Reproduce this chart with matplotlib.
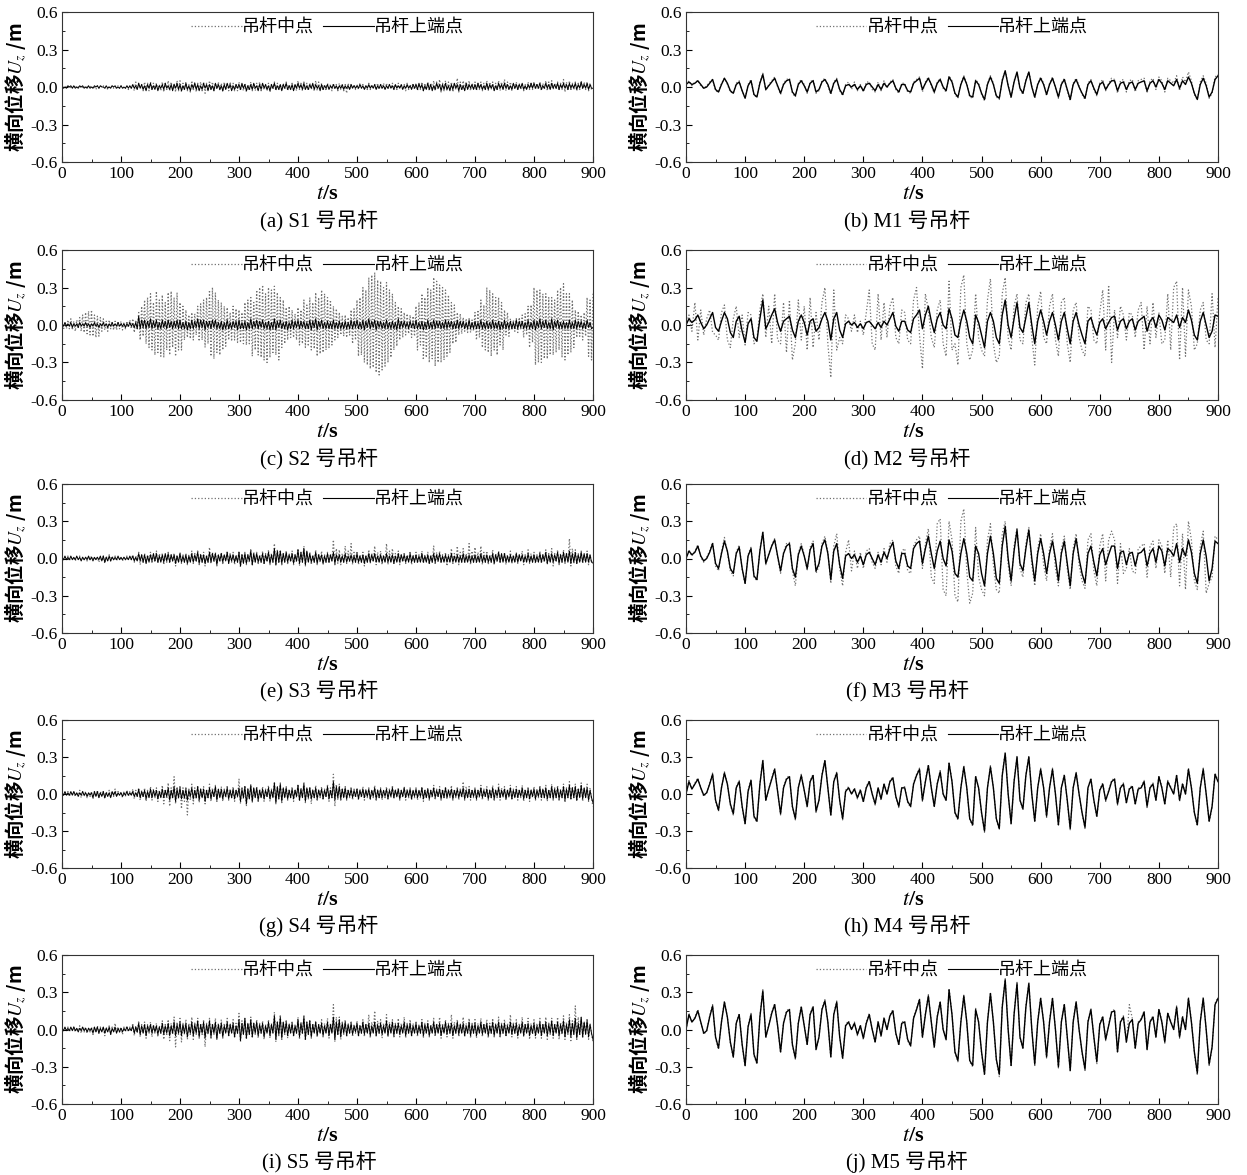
import numpy as np
import matplotlib
matplotlib.use('Agg')
import matplotlib.pyplot as plt
from matplotlib.ticker import MultipleLocator, FormatStrFormatter
from matplotlib.lines import Line2D

plt.rcParams['font.family'] = ['Liberation Serif', 'Noto Sans CJK SC']
plt.rcParams['mathtext.fontset'] = 'stix'
plt.rcParams['axes.unicode_minus'] = False

# displacements, in cm
# S hangers: one sample every 2.5 s (0 .. 900 s); M hangers: every 5 s
# --- S1
s1_mid = [1,-1,1,0,1,-1,0,-1,1,-1,1,0,1,-1,0,-1,1,-1,1,0,1,-1,0,-2,1,-1,1,0,1,-1,0,-2,1,-1,1,-1,0,-1,1,-1,
          1,-1,0,-1,1,-2,1,-1,2,-3,4,-2,3,-1,2,-3,4,-2,3,-3,4,-2,3,-1,3,-2,2,-3,4,-4,3,-2,5,-3,4,-2,3,-4,5,-3,
          5,-4,3,-2,4,-3,2,-4,5,-3,4,-4,3,-2,4,-3,4,-5,3,-3,5,-2,4,-3,3,-2,4,-3,3,-4,4,-2,3,-3,4,-2,3,-3,2,-3,
          4,-3,2,-3,3,-4,2,-3,4,-3,2,-3,3,-2,4,-3,3,-2,2,-3,3,-4,2,-2,4,-3,3,-2,2,-3,3,-2,4,-3,2,-2,3,-3,2,-3,
          5,-2,3,-3,4,-2,3,-3,3,-2,2,-3,5,-3,4,-2,3,-3,2,-3,3,-2,2,-3,3,-2,2,-3,3,-2,1,-3,2,-5,3,-2,2,-1,2,-2,
          2,-2,3,-1,2,-2,1,-2,3,-2,2,-1,2,-2,3,-2,2,-1,3,-2,3,-2,2,-1,3,-2,2,-2,3,-1,2,-2,2,-3,3,-2,2,-1,3,-2,
          3,-3,2,-2,4,-3,3,-2,4,-3,3,-2,5,-3,4,-2,6,-4,3,-3,5,-3,4,-2,4,-4,3,-2,7,-4,4,-3,5,-3,4,-2,5,-3,3,-2,
          4,-3,3,-2,4,-3,3,-2,5,-3,4,-2,4,-3,3,-2,5,-3,4,-2,6,-3,4,-2,4,-3,3,-2,4,-3,3,-2,3,-3,2,-2,4,-2,3,-2,
          4,-2,3,-2,4,-3,3,-2,5,-3,4,-2,5,-2,3,-2,4,-3,3,-2,6,-4,4,-3,5,-3,3,-2,4,-3,3,-2,5,-2,4,-2,4,-3,3,-2,
          -2]
s1_top = [1,-1,0,-1,1,0,1,-1,1,-1,0,-1,1,0,1,-1,0,-1,1,-1,0,-1,1,0,1,-1,1,0,0,-1,1,-1,0,-1,1,0,1,-1,0,-1,
          1,-1,0,-1,1,-1,1,-1,2,-1,1,-2,3,-1,2,-2,1,-3,2,-1,3,-2,1,-2,2,-3,1,-1,2,-2,3,-1,1,-2,2,-3,2,-1,3,-2,
          2,-3,1,-2,3,-2,1,-3,2,-1,3,-2,2,-3,1,-2,3,-1,2,-3,2,-2,1,-3,3,-1,2,-2,1,-3,2,-2,3,-1,2,-3,1,-2,2,-1,
          2,-2,3,-1,2,-3,1,-2,2,-2,3,-1,1,-3,2,-2,3,-1,2,-2,1,-3,2,-1,3,-2,1,-2,2,-3,2,-1,3,-2,1,-2,2,-3,2,-1,
          3,-1,2,-2,3,-2,1,-2,2,-1,3,-2,2,-1,1,-3,2,-2,1,-1,2,-2,1,-1,2,-1,1,-2,1,-1,2,-2,1,-1,1,-2,2,-1,1,-1,
          1,-1,2,-1,1,-2,1,-1,2,-1,1,-1,2,-2,1,-1,2,-1,1,-2,1,-1,2,-1,1,-2,2,-1,1,-1,2,-2,1,-1,2,-1,1,-2,2,-1,
          2,-2,3,-1,2,-3,1,-2,3,-2,2,-3,1,-2,3,-1,2,-3,2,-2,3,-2,1,-3,2,-2,3,-1,2,-3,2,-2,1,-3,3,-2,2,-1,2,-2,
          2,-2,3,-1,2,-2,1,-2,3,-2,2,-1,2,-3,1,-2,3,-1,2,-2,3,-1,2,-2,1,-2,3,-1,2,-2,2,-1,3,-2,1,-2,2,-1,3,-1,
          3,-1,2,-1,3,-2,1,-1,3,-1,2,-2,3,-1,2,-1,3,-2,2,-1,3,-1,2,-2,3,-1,2,-1,3,-2,2,-1,4,-1,2,-1,3,-2,2,-1,
          -1]
# --- S2
s2_mid = [3,-4,2,-3,4,-3,5,-4,3,-5,4,-2,6,-5,8,-6,10,-7,11,-8,12,-9,8,-10,7,-9,6,-5,5,-4,3,-5,4,-3,2,-4,3,-4,2,-3,
          3,-4,2,-3,3,-2,4,-3,5,-6,4,-3,10,-12,15,-9,20,-15,22,-18,25,-20,18,-24,27,-22,20,-25,24,-26,18,-20,26,-24,27,-18,22,-25,26,-20,
          18,-20,15,-12,12,-10,8,-11,10,-12,9,-8,15,-13,17,-12,20,-18,22,-15,28,-25,30,-27,26,-22,20,-24,18,-20,15,-17,14,-12,10,-13,15,-12,13,-14,
          12,-14,10,-15,18,-16,20,-15,22,-25,18,-20,28,-24,30,-26,32,-28,25,-30,30,-26,28,-22,31,-24,26,-28,22,-18,20,-15,14,-12,15,-10,12,-10,9,-12,
          14,-16,12,-15,20,-18,16,-17,22,-20,18,-19,26,-25,22,-23,28,-22,25,-20,22,-18,20,-16,15,-12,13,-10,10,-8,7,-9,8,-10,6,-8,12,-15,13,-12,
          20,-25,22,-24,30,-30,28,-32,38,-35,40,-34,42,-38,36,-40,35,-36,30,-33,34,-30,28,-26,25,-20,18,-17,15,-12,13,-10,10,-8,9,-7,8,-10,7,-9,
          15,-20,18,-16,25,-28,22,-26,30,-30,28,-27,38,-33,35,-30,32,-30,30,-28,28,-25,24,-22,18,-15,16,-14,10,-8,9,-7,6,-5,5,-6,5,-6,4,-5,
          10,-12,12,-10,20,-18,16,-20,30,-22,28,-25,25,-20,22,-24,22,-16,18,-20,12,-8,10,-9,5,-4,4,-5,5,-6,6,-4,8,-10,9,-8,15,-18,16,-14,
          30,-32,28,-30,28,-30,25,-27,25,-27,22,-24,22,-24,20,-22,28,-20,30,-26,33,-28,25,-24,25,-22,20,-18,12,-10,11,-9,8,-12,10,-9,22,-25,20,-28,
          25]
s2_top = [1,-1,2,-1,1,-1,2,-2,1,-1,1,-2,2,-1,1,-1,2,-1,1,-2,1,-1,2,-1,1,-2,1,-1,2,-1,1,-2,1,-1,2,-1,1,-1,2,-1,
          1,-1,1,-2,1,-1,2,-1,1,-2,2,-3,7,-3,4,-2,4,-3,3,-2,5,-3,3,-2,4,-3,2,-3,4,-2,3,-3,4,-2,3,-3,3,-2,4,-3,
          4,-3,2,-3,3,-4,2,-3,4,-3,3,-2,5,-3,4,-2,4,-4,3,-2,3,-3,4,-2,4,-3,2,-3,3,-4,2,-3,4,-3,2,-3,3,-2,3,-4,
          4,-3,2,-3,3,-4,2,-3,5,-3,3,-2,4,-3,3,-2,4,-3,2,-3,3,-4,2,-3,5,-4,3,-2,4,-3,2,-3,3,-4,2,-3,4,-3,3,-2,
          4,-3,3,-2,3,-3,2,-3,4,-4,3,-2,5,-4,3,-2,4,-3,2,-3,3,-3,2,-3,4,-3,2,-3,3,-3,2,-3,3,-3,2,-3,4,-3,3,-2,
          4,-3,2,-3,4,-4,3,-2,5,-3,3,-2,4,-4,3,-2,3,-3,2,-3,4,-3,2,-3,3,-3,2,-4,5,-3,3,-2,3,-2,2,-3,3,-2,2,-3,
          4,-3,2,-3,3,-4,2,-3,4,-3,2,-3,4,-3,3,-2,3,-3,2,-3,4,-3,3,-2,3,-3,2,-3,4,-3,3,-2,3,-3,2,-3,4,-3,2,-3,
          3,-3,2,-3,4,-3,2,-3,3,-3,2,-3,4,-3,2,-3,3,-4,2,-3,4,-3,2,-3,3,-3,2,-3,4,-3,3,-2,3,-3,2,-3,4,-3,2,-3,
          4,-4,3,-2,5,-3,3,-2,4,-3,2,-3,5,-4,3,-2,4,-3,2,-3,3,-3,2,-3,4,-3,2,-3,4,-3,3,-2,3,-3,2,-3,4,-2,2,-3,
          -2]
# --- S3
s3_mid = [2,-1,1,-1,2,-2,1,-1,1,-2,1,-1,2,-1,1,-1,1,-2,1,-1,2,-1,1,-1,1,-3,1,-2,2,-4,2,-2,3,-2,2,-1,2,-2,1,-1,
          1,-2,1,-1,2,-1,1,-1,3,-3,2,-2,5,-5,3,-3,4,-4,3,-2,5,-4,3,-3,6,-4,4,-2,4,-5,3,-3,5,-4,3,-2,4,-6,3,-3,
          5,-4,3,-3,4,-5,3,-2,6,-4,4,-3,7,-5,4,-3,5,-6,3,-3,9,-4,5,-3,5,-6,3,-3,5,-5,3,-2,6,-4,4,-3,5,-5,3,-3,
          6,-7,4,-3,5,-5,3,-3,8,-6,5,-3,5,-5,3,-3,6,-5,4,-3,7,-5,4,-3,12,-6,7,-4,7,-6,4,-3,6,-5,4,-3,6,-5,3,-3,
          8,-6,5,-3,10,-6,6,-3,5,-5,3,-3,7,-5,4,-3,6,-5,3,-3,5,-4,3,-2,15,-6,8,-4,7,-5,4,-3,10,-4,6,-3,12,-5,5,-3,
          6,-5,3,-3,5,-6,3,-3,7,-4,4,-3,10,-5,5,-3,6,-5,3,-3,12,-5,6,-3,8,-4,4,-3,6,-5,3,-3,5,-4,3,-2,6,-5,3,-3,
          5,-4,3,-3,6,-4,3,-2,5,-5,3,-3,10,-5,5,-3,6,-4,3,-3,5,-6,3,-3,8,-4,4,-3,10,-5,5,-3,8,-4,4,-3,12,-5,6,-3,
          9,-4,5,-3,10,-5,5,-3,6,-5,3,-3,7,-5,4,-3,6,-4,3,-3,5,-5,3,-3,6,-4,3,-3,5,-4,3,-2,6,-5,3,-3,7,-4,4,-3,
          5,-4,3,-3,6,-4,3,-3,7,-5,4,-3,8,-6,4,-3,7,-5,4,-3,7,-4,4,-3,16,-6,8,-4,7,-5,4,-3,6,-4,3,-3,6,-5,3,-3,
          -4]
s3_top = [1,-1,2,-1,1,-1,2,-1,1,-1,2,-1,1,-2,1,-1,1,-1,2,-1,1,-2,1,-1,1,-1,2,-2,2,-3,1,-2,2,-2,1,-1,1,-1,2,-1,
          1,-1,1,-1,1,-1,2,-1,2,-2,1,-2,4,-2,3,-3,3,-4,2,-3,3,-2,4,-2,4,-3,2,-3,3,-3,4,-2,4,-3,3,-2,3,-4,2,-3,
          4,-3,2,-3,3,-4,2,-3,4,-3,3,-2,5,-4,3,-3,3,-4,2,-3,5,-3,4,-2,4,-5,3,-2,4,-3,3,-2,5,-4,3,-2,3,-3,2,-3,
          5,-6,3,-4,4,-4,3,-2,6,-5,4,-3,4,-3,2,-3,4,-4,3,-2,5,-4,3,-3,8,-5,6,-3,6,-4,4,-3,5,-3,3,-2,4,-4,3,-2,
          7,-4,5,-3,8,-5,6,-3,4,-3,2,-3,5,-4,3,-2,3,-4,2,-3,4,-3,3,-2,5,-4,3,-2,3,-3,2,-3,4,-3,2,-2,3,-3,2,-3,
          4,-3,2,-3,3,-4,2,-3,4,-3,3,-2,4,-3,2,-3,3,-3,2,-3,4,-3,2,-3,3,-4,2,-3,4,-3,3,-2,3,-3,2,-3,4,-3,2,-3,
          3,-3,2,-3,4,-3,2,-3,3,-4,2,-3,4,-3,3,-2,4,-3,2,-3,3,-3,2,-3,4,-3,2,-3,3,-3,2,-3,4,-3,2,-3,3,-3,2,-3,
          3,-3,2,-3,4,-3,2,-3,3,-3,2,-3,4,-4,3,-2,5,-3,4,-3,4,-3,2,-3,3,-3,2,-3,4,-3,3,-2,3,-3,2,-3,4,-3,2,-3,
          3,-3,2,-3,4,-3,3,-2,5,-4,3,-3,4,-3,3,-2,5,-4,3,-3,5,-3,4,-3,6,-4,4,-3,5,-4,3,-3,5,-3,4,-3,4,-3,3,-3,
          -3]
# --- S4
s4_mid = [2,-1,1,-1,2,-2,1,-1,2,-2,1,-1,3,-3,2,-2,2,-3,1,-2,2,-4,2,-2,3,-3,2,-1,2,-4,2,-2,3,-3,2,-2,4,-2,2,-1,
          2,-3,2,-2,3,-2,2,-1,4,-4,3,-2,5,-5,3,-3,5,-6,3,-3,6,-5,4,-3,5,-6,3,-3,7,-8,4,-4,9,-10,5,-4,14,-8,6,-4,
          7,-12,5,-6,6,-17,4,-5,8,-8,5,-4,7,-7,4,-3,6,-8,4,-4,8,-6,5,-3,7,-6,4,-3,6,-6,4,-3,7,-5,4,-3,6,-6,4,-3,
          12,-8,6,-4,7,-10,5,-4,8,-7,5,-3,6,-7,4,-3,6,-6,4,-3,7,-6,4,-3,10,-8,6,-4,9,-7,5,-3,6,-5,4,-3,6,-6,4,-3,
          8,-6,5,-3,10,-7,5,-4,6,-8,4,-3,7,-6,4,-3,6,-5,4,-3,8,-6,5,-3,16,-10,8,-5,8,-6,5,-3,6,-5,4,-3,6,-5,4,-3,
          5,-5,4,-3,6,-5,4,-3,5,-5,3,-3,7,-6,4,-3,5,-5,3,-3,6,-4,4,-3,7,-4,4,-3,5,-5,3,-3,6,-5,4,-3,5,-5,3,-3,
          5,-5,3,-3,6,-6,4,-3,5,-5,3,-3,7,-5,4,-3,6,-5,4,-3,6,-4,4,-3,7,-5,4,-3,6,-5,4,-3,10,-5,6,-3,6,-5,4,-3,
          5,-5,3,-3,7,-5,4,-3,6,-5,4,-3,7,-6,4,-3,8,-5,5,-3,6,-5,4,-3,7,-5,4,-3,6,-5,4,-3,7,-6,4,-3,6,-6,4,-3,
          6,-5,4,-3,7,-5,4,-3,7,-6,4,-3,8,-5,5,-3,7,-6,4,-3,8,-7,5,-3,10,-5,6,-3,8,-6,5,-3,9,-6,5,-3,8,-6,5,-4,
          -10]
s4_top = [1,-1,2,-1,1,-1,2,-1,2,-1,1,-2,1,-1,2,-1,1,-2,1,-1,1,-3,2,-2,2,-3,1,-2,2,-3,1,-2,1,-3,2,-1,2,-2,1,-1,
          1,-2,1,-1,2,-1,1,-1,2,-2,1,-2,4,-3,2,-2,3,-4,2,-3,4,-3,3,-2,3,-4,2,-3,4,-3,3,-2,5,-5,3,-3,6,-6,4,-3,
          5,-4,3,-3,4,-5,3,-2,5,-4,3,-3,6,-5,4,-3,4,-6,3,-3,5,-4,3,-2,6,-5,4,-3,4,-4,3,-2,5,-4,3,-3,4,-4,3,-2,
          5,-6,4,-3,6,-8,4,-4,7,-6,5,-3,5,-5,3,-3,4,-4,3,-2,5,-4,3,-3,9,-7,6,-4,8,-6,5,-3,5,-4,3,-3,4,-4,3,-2,
          7,-5,4,-3,8,-6,5,-3,5,-4,3,-3,5,-4,3,-2,4,-4,3,-2,6,-4,3,-3,10,-5,6,-3,6,-4,4,-3,5,-4,3,-2,4,-3,3,-2,
          4,-4,3,-2,4,-3,3,-2,4,-4,3,-2,5,-4,3,-3,4,-3,3,-2,4,-4,3,-2,5,-3,3,-2,4,-4,3,-2,5,-3,3,-2,4,-4,3,-2,
          4,-3,3,-2,5,-4,3,-3,4,-4,3,-2,5,-3,3,-2,4,-4,3,-3,5,-3,3,-2,4,-4,3,-2,4,-3,3,-2,5,-4,3,-3,4,-3,3,-2,
          4,-4,3,-2,5,-3,3,-2,4,-4,3,-3,5,-4,3,-2,5,-3,3,-2,4,-4,3,-2,5,-4,3,-3,4,-3,3,-2,5,-4,3,-3,4,-4,3,-2,
          4,-4,3,-2,5,-3,4,-3,5,-4,3,-3,6,-4,4,-3,5,-4,3,-3,6,-5,4,-3,7,-4,5,-3,6,-5,4,-3,7,-4,5,-3,5,-5,3,-3,
          -7]
# --- S5
s5_mid = [2,-1,1,-1,2,-2,1,-1,2,-2,1,-1,3,-3,2,-2,2,-3,1,-2,2,-4,2,-2,3,-3,2,-1,2,-5,2,-2,3,-4,2,-2,5,-3,2,-2,
          2,-4,2,-2,3,-2,2,-1,5,-5,3,-3,7,-6,4,-3,6,-7,4,-3,6,-6,4,-3,5,-6,3,-3,7,-8,4,-4,8,-9,5,-4,10,-14,6,-4,
          9,-10,5,-4,8,-8,5,-4,10,-8,6,-4,9,-7,5,-4,8,-14,5,-4,9,-8,5,-4,9,-7,5,-4,8,-7,5,-3,9,-6,5,-3,8,-7,5,-3,
          13,-10,7,-4,9,-8,5,-4,10,-7,6,-4,8,-7,5,-3,7,-8,4,-3,8,-7,5,-3,14,-10,7,-5,12,-8,6,-4,8,-7,5,-3,7,-6,4,-3,
          10,-8,6,-4,12,-9,6,-4,8,-7,5,-3,7,-6,4,-3,8,-6,5,-3,9,-7,5,-3,20,-10,10,-5,10,-8,6,-4,8,-6,5,-3,7,-6,4,-3,
          7,-6,4,-3,8,-6,5,-3,12,-7,6,-3,15,-6,7,-3,8,-7,5,-3,12,-6,6,-3,8,-7,5,-3,9,-6,5,-3,10,-7,5,-3,8,-6,5,-3,
          7,-6,4,-3,8,-7,5,-3,7,-6,4,-3,9,-6,5,-3,10,-7,5,-3,8,-6,5,-3,12,-7,6,-3,8,-6,5,-3,10,-6,5,-3,9,-7,5,-3,
          8,-7,5,-3,9,-6,5,-3,8,-7,5,-3,9,-6,5,-3,10,-7,5,-3,8,-6,5,-3,12,-6,6,-3,8,-7,5,-3,10,-6,5,-3,9,-8,5,-4,
          8,-7,5,-3,9,-7,5,-3,10,-8,6,-4,9,-7,5,-3,10,-8,6,-4,11,-8,6,-4,12,-9,7,-4,19,-8,10,-4,10,-7,6,-3,9,-8,5,-4,
          -10]
s5_top = [1,-1,2,-1,1,-1,2,-1,2,-1,1,-2,1,-1,2,-1,1,-2,1,-1,1,-3,2,-2,2,-3,1,-2,2,-3,1,-2,2,-4,1,-2,2,-3,1,-2,
          1,-2,1,-1,2,-1,1,-1,3,-3,2,-2,5,-4,3,-3,4,-5,3,-2,4,-3,3,-2,3,-4,2,-3,5,-4,3,-3,5,-5,3,-3,6,-5,4,-3,
          6,-5,4,-3,5,-6,3,-3,6,-5,4,-3,7,-6,4,-3,6,-7,4,-3,7,-6,4,-3,6,-8,4,-3,5,-6,3,-3,6,-5,4,-3,5,-6,3,-3,
          8,-9,5,-4,9,-7,5,-4,8,-6,5,-3,6,-5,4,-3,5,-6,3,-3,6,-5,4,-3,11,-8,6,-4,10,-7,6,-3,6,-5,4,-3,5,-5,3,-3,
          8,-6,5,-3,10,-8,6,-4,7,-6,4,-3,6,-5,4,-3,5,-5,3,-3,6,-5,4,-3,10,-8,6,-4,8,-6,5,-3,6,-5,4,-3,5,-4,3,-2,
          5,-5,3,-3,6,-4,4,-3,5,-5,3,-3,6,-5,4,-3,5,-4,3,-3,7,-5,4,-3,6,-5,4,-3,5,-4,3,-3,6,-5,4,-3,5,-5,3,-3,
          5,-4,3,-3,6,-5,4,-3,5,-5,3,-3,6,-4,4,-3,5,-5,3,-3,6,-4,4,-3,5,-5,3,-3,6,-4,4,-3,5,-5,3,-3,6,-5,4,-3,
          5,-5,3,-3,6,-4,4,-3,5,-5,3,-3,6,-5,4,-3,6,-5,4,-3,5,-5,3,-3,6,-4,4,-3,5,-5,3,-3,6,-5,4,-3,5,-5,3,-3,
          5,-5,3,-3,6,-5,4,-3,6,-5,4,-3,7,-5,4,-3,6,-5,4,-3,7,-6,4,-3,8,-6,5,-4,9,-7,5,-4,10,-6,6,-4,7,-6,4,-3,
          -8]
# --- M1
m1_mid = [2,5,1,4,5,1,-1,1,4,6,-3,-4,3,7,2,-4,-5,3,5,-3,
          -9,2,6,-7,-8,4,11,-3,2,5,8,0,-6,3,6,7,-5,-8,3,6,
          2,-5,4,6,-5,-3,5,7,1,-6,4,7,-3,-7,2,4,-2,4,-3,2,
          -4,4,4,-2,-4,4,-3,5,-1,4,6,-2,-5,3,3,-4,-5,4,6,8,
          -4,4,8,1,-5,4,7,-1,-4,9,5,-6,-9,3,9,3,-8,-9,6,3,
          -6,-11,3,9,3,-8,-10,6,13,2,-9,5,12,-2,-6,6,12,1,-9,3,
          8,3,-7,3,8,-1,-9,3,7,-3,-11,3,7,1,-6,-10,3,6,-2,-7,
          3,6,-3,3,7,6,-5,5,6,-4,5,6,-4,5,6,7,-5,5,7,-2,
          8,5,-4,7,5,3,9,-3,8,4,12,5,-6,-10,4,9,3,-9,-5,8,
          10]
m1_top = [2,4,2,3,5,2,-1,0,3,6,-2,-4,2,7,3,-3,-5,2,4,-3,
          -9,1,5,-6,-8,3,10,-2,1,4,7,1,-5,2,5,6,-4,-7,2,5,
          1,-4,3,5,-4,-2,4,6,2,-5,3,6,-2,-6,1,2,0,2,-2,1,
          -3,2,3,0,-3,2,-2,3,0,3,5,-1,-4,2,2,-3,-4,3,5,7,
          -2,3,7,2,-4,3,6,0,-3,8,4,-5,-8,2,8,2,-7,-8,5,2,
          -5,-10,2,8,2,-7,-9,5,13,1,-8,4,12,-1,-5,5,12,0,-8,2,
          7,2,-6,2,7,0,-8,2,6,-2,-10,2,6,0,-5,-9,2,5,-1,-6,
          2,4,-2,2,5,5,-3,3,4,-2,3,4,-2,3,4,5,-3,3,5,0,
          6,3,-2,5,3,1,6,-1,5,2,8,3,-5,-10,2,7,1,-8,-4,6,
          9]
# --- M2
m2_mid = [0,8,-5,18,-12,12,-8,5,12,-6,-8,-12,10,16,-12,-18,5,15,-10,8,
          -16,10,8,-15,-12,12,25,-10,15,-15,25,-12,-15,18,-22,20,-28,-15,20,-12,
          15,-20,22,-18,10,-12,18,30,-15,-42,28,-20,-10,-15,8,5,-5,8,-6,3,
          -8,10,28,-15,-20,25,-12,18,-10,15,22,-10,-15,12,10,-12,-15,20,30,-8,
          -35,25,12,-10,-18,12,20,-15,-25,35,-20,-15,-32,30,40,-15,-28,-20,25,-10,
          -20,-25,20,37,-15,-30,-25,25,38,-10,-20,15,25,-12,-15,18,25,-10,-32,15,
          27,-10,-15,15,25,-12,-25,18,22,-15,-30,12,18,-10,-20,-25,15,12,-12,-15,
          10,28,-20,32,-30,12,-10,15,8,-12,10,8,-10,12,18,-20,15,-15,18,-10,
          10,-15,-12,25,-20,30,35,-28,30,-25,28,15,-20,-15,12,18,-12,-15,25,-18,
          22]
m2_top = [0,5,2,4,8,2,-3,0,5,10,-2,-5,3,10,5,-6,-10,3,7,-5,
          -14,1,5,-10,-13,5,20,-3,2,8,13,2,-5,3,5,7,-4,-10,3,8,
          2,-8,3,5,-5,-2,5,10,3,-12,5,10,-4,-10,1,3,0,2,-2,1,
          -3,2,3,0,-3,2,-2,3,0,5,10,-1,-5,3,3,-4,-6,5,8,12,
          -3,8,15,3,-6,5,10,0,-3,13,5,-8,-10,3,12,3,-10,-15,8,2,
          -8,-18,3,10,3,-10,-15,8,20,0,-10,5,18,-2,-6,6,18,0,-15,3,
          12,3,-8,3,10,0,-12,3,10,-3,-15,3,10,0,-8,-15,3,6,-2,-8,
          2,5,-3,2,6,7,-4,3,5,-3,3,5,-4,3,5,7,-5,3,6,-2,
          8,4,-4,6,4,2,8,-2,6,2,12,4,-8,-12,3,10,0,-10,-5,8,
          7]
# --- M3
m3_mid = [0,7,2,6,11,1,-3,1,6,13,-6,-10,5,17,5,-10,-14,5,11,-9,
          -21,3,9,-15,-18,7,22,-5,4,11,16,1,-12,5,12,13,-10,-22,4,12,
          3,-10,9,14,-12,-6,12,18,5,-20,10,20,-8,-22,5,15,-10,6,-8,5,
          -8,6,8,-3,-8,5,-5,8,-3,12,15,-6,-12,6,8,-10,-12,10,15,18,
          -8,12,24,-15,-20,28,32,-25,-30,30,15,-30,-35,30,40,-10,-36,-28,25,-15,
          -25,-30,15,28,-5,-25,-28,20,30,-5,-22,10,25,-8,-15,12,25,-5,-22,8,
          20,-5,-18,8,20,-8,-22,8,18,-8,-25,8,20,-5,-18,-24,15,20,-10,-22,
          10,20,-18,15,22,15,-20,12,-12,-8,8,-10,-12,8,10,12,-15,10,14,-8,
          15,10,-12,15,-15,25,28,-22,20,-25,30,15,-18,-25,10,22,-28,-20,-15,18,
          15]
m3_top = [0,6,3,5,10,2,-2,0,5,12,-4,-8,4,14,6,-8,-12,4,9,-8,
          -20,2,8,-14,-17,6,21,-4,3,10,15,2,-10,4,10,12,-8,-15,3,10,
          2,-8,7,12,-10,-4,10,15,4,-17,6,12,-5,-16,2,4,0,3,-3,2,
          -5,3,5,0,-5,3,-3,5,0,8,13,-2,-8,4,4,-6,-8,8,12,14,
          -4,8,18,4,-8,6,14,0,-6,15,6,-12,-15,4,16,4,-15,-18,10,4,
          -12,-22,4,18,4,-16,-20,10,26,0,-18,6,23,-4,-10,8,23,0,-18,4,
          16,4,-12,4,14,0,-18,4,14,-4,-22,4,16,0,-12,-20,4,10,-3,-14,
          3,8,-5,3,10,10,-8,5,6,-5,4,5,-6,4,5,8,-6,4,8,-3,
          10,6,-6,8,6,2,12,-3,8,2,15,5,-12,-20,4,15,2,-18,-8,14,
          12]
# --- M4
m4_mid = [0,11,4,9,13,5,-2,1,9,17,-6,-14,5,18,8,-9,-17,6,11,-11,
          -25,3,12,-19,-23,8,28,-6,4,13,21,2,-17,6,13,15,-11,-21,5,16,
          3,-11,11,16,-15,-5,16,28,5,-18,11,18,-6,-21,3,6,0,5,-4,4,
          -7,6,11,0,-9,5,-5,9,0,11,14,-3,-11,5,6,-7,-11,9,16,21,
          -6,11,24,5,-11,9,19,0,-6,26,11,-16,-21,5,23,5,-21,-26,15,5,
          -16,-31,5,23,5,-21,-29,16,34,0,-25,11,31,-5,-13,16,31,0,-23,5,
          21,5,-19,5,21,0,-26,5,16,-6,-29,5,18,0,-16,-28,5,13,-6,-19,
          4,9,-6,3,11,13,-9,6,9,-8,5,7,-9,5,6,11,-11,6,9,-6,
          15,6,-9,11,6,0,16,-6,9,0,21,6,-16,-26,5,21,0,-23,-11,17,
          11]
m4_top = [0,10,4,8,12,5,-1,1,8,16,-5,-13,5,17,8,-8,-16,5,10,-10,
          -24,2,11,-18,-22,8,27,-5,4,12,20,2,-16,5,12,14,-10,-20,5,15,
          3,-10,10,15,-14,-5,15,27,5,-17,10,17,-5,-20,2,5,0,4,-3,3,
          -6,5,10,0,-8,5,-4,8,0,10,13,-2,-10,5,5,-6,-10,8,15,20,
          -5,10,23,5,-10,8,18,0,-5,25,10,-15,-20,5,22,5,-20,-25,14,5,
          -15,-30,5,22,5,-20,-28,15,33,0,-24,10,30,-5,-12,15,30,0,-22,5,
          20,5,-18,5,20,0,-25,5,15,-5,-28,5,17,0,-15,-27,5,12,-5,-18,
          3,8,-5,2,10,12,-8,5,8,-7,4,6,-8,4,5,10,-10,5,8,-5,
          14,5,-8,10,5,0,15,-5,8,0,20,5,-15,-25,5,20,0,-22,-10,16,
          10]
# --- M5
m5_mid = [0,13,6,10,16,6,-4,-1,11,20,-7,-16,6,23,10,-11,-23,6,13,-13,
          -30,3,13,-21,-28,11,32,-7,4,14,21,3,-19,6,15,17,-13,-24,6,19,
          4,-13,13,19,-17,-6,17,24,6,-23,13,23,-6,-24,4,7,0,6,-5,4,
          -8,6,13,0,-11,7,-6,10,0,12,16,-4,-13,6,7,-9,-14,10,17,25,
          -7,13,28,6,-15,11,23,0,-9,33,13,-19,-26,7,28,6,-26,-30,17,6,
          -19,-37,7,30,6,-25,-38,19,41,0,-30,13,38,-7,-16,19,38,0,-29,7,
          26,6,-23,7,26,0,-31,6,21,-7,-34,7,23,0,-19,-33,7,17,-7,-28,
          5,11,-9,4,15,16,-19,7,11,-11,20,9,-16,6,9,15,-17,7,11,-7,
          17,7,-11,14,7,0,19,-7,11,0,26,7,-19,-37,7,26,0,-29,-15,21,
          26]
m5_top = [0,12,6,9,15,6,-3,-1,10,19,-6,-15,6,22,10,-10,-22,5,12,-12,
          -29,2,12,-20,-27,10,31,-6,3,13,20,3,-18,5,14,16,-12,-23,5,18,
          3,-12,12,18,-16,-6,16,23,6,-22,12,22,-6,-23,3,6,0,5,-4,3,
          -7,5,12,0,-10,6,-5,9,0,11,15,-3,-12,5,6,-8,-13,9,16,24,
          -6,12,27,6,-14,10,22,0,-8,32,12,-18,-25,6,27,6,-25,-29,16,6,
          -18,-36,6,29,6,-24,-36,18,40,0,-29,12,37,-6,-15,18,37,0,-28,6,
          25,6,-22,6,25,0,-30,6,20,-6,-33,6,22,0,-18,-32,6,16,-6,-26,
          4,10,-8,3,14,15,-18,6,10,-10,5,8,-15,5,8,14,-16,6,10,-6,
          16,6,-10,13,6,0,18,-6,10,0,25,6,-18,-35,6,25,0,-28,-14,20,
          25]

captions = ['(a) S1 号吊杆', '(b) M1 号吊杆', '(c) S2 号吊杆', '(d) M2 号吊杆',
            '(e) S3 号吊杆', '(f) M3 号吊杆', '(g) S4 号吊杆', '(h) M4 号吊杆',
            '(i) S5 号吊杆', '(j) M5 号吊杆']
mids = [s1_mid, m1_mid, s2_mid, m2_mid, s3_mid, m3_mid, s4_mid, m4_mid, s5_mid, m5_mid]
tops = [s1_top, m1_top, s2_top, m2_top, s3_top, m3_top, s4_top, m4_top, s5_top, m5_top]
legend_labels = ['吊杆中点', '吊杆上端点']

W, H = 1247, 1175
fig = plt.figure(figsize=(W / 100, H / 100), dpi=100)

col_x = [(62, 593), (686, 1218)]
row_y = [(12, 162), (250, 400), (484, 633), (720, 868), (955, 1104)]
cap_x = [319, 907]
ts_x = [327, 913]
cjk = ['Noto Sans CJK SC', 'DejaVu Sans']
mid_color = '#707070'

for i in range(10):
    r, c = divmod(i, 2)
    x0, x1 = col_x[c]
    y0, y1 = row_y[r]
    ax = fig.add_axes([x0 / W, 1 - y1 / H, (x1 - x0) / W, (y1 - y0) / H])

    mid = np.array(mids[i]) / 100.0
    top = np.array(tops[i]) / 100.0
    lw_top = 0.7 if c == 0 else 1.0
    ax.plot(np.linspace(0, 900, len(mid)), mid, ls=':', color=mid_color, lw=0.9)
    ax.plot(np.linspace(0, 900, len(top)), top, ls='-', color='black', lw=lw_top)

    ax.set_xlim(0, 900)
    ax.set_ylim(-0.6, 0.6)
    ax.xaxis.set_major_locator(MultipleLocator(100))
    ax.xaxis.set_minor_locator(MultipleLocator(50))
    ax.yaxis.set_major_locator(MultipleLocator(0.3))
    ax.yaxis.set_minor_locator(MultipleLocator(0.15))
    ax.yaxis.set_major_formatter(FormatStrFormatter('%.1f'))
    ax.tick_params(which='both', direction='in', top=False, right=False,
                   labelsize=12.5, pad=3)
    ax.tick_params(which='major', length=4, width=0.8)
    ax.tick_params(which='minor', length=2.5, width=0.6)
    for sp in ax.spines.values():
        sp.set_linewidth(0.8)
        sp.set_color('#333333')

    ax.set_ylabel('横向位移$U_z$ /m', family=cjk, fontsize=14,
                  fontweight='bold', labelpad=1)

    ax.text((ts_x[c] - x0) / (x1 - x0), -0.215, '$t$/s', transform=ax.transAxes,
            ha='center', va='center', fontsize=16, fontweight='bold')
    ax.text((cap_x[c] - x0) / (x1 - x0), -0.39, captions[i], transform=ax.transAxes,
            ha='center', va='center', fontsize=15)

    handles = [Line2D([], [], ls=':', color=mid_color, lw=0.9),
               Line2D([], [], ls='-', color='black', lw=0.8)]
    ax.legend(handles, legend_labels, loc='upper center', bbox_to_anchor=(0.5, 1.02),
              ncol=2, frameon=False, prop={'family': cjk, 'size': 13},
              handlelength=2.8, handletextpad=0.0, columnspacing=0.5,
              borderaxespad=0.1)

fig.savefig('out.png', dpi=100)
